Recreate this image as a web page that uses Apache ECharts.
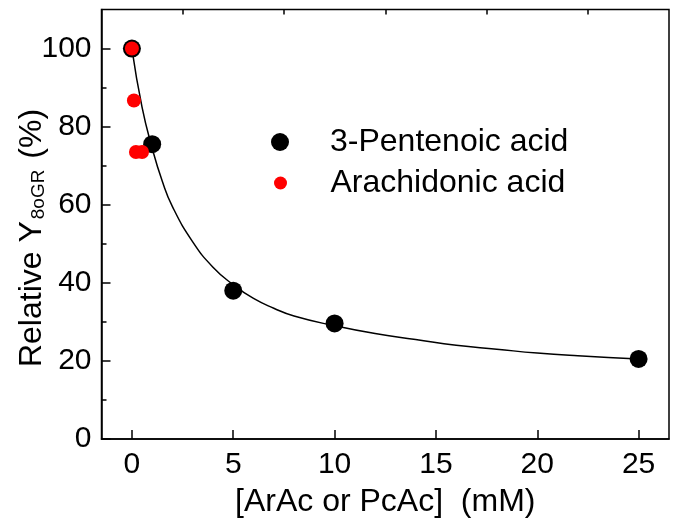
<!DOCTYPE html>
<html>
<head>
<meta charset="utf-8">
<script src="https://cdn.jsdelivr.net/npm/echarts@6/dist/echarts.min.js"></script>
<style>html,body{margin:0;padding:0;background:#fff}#c{width:679px;height:523px}</style>
</head>
<body>
<div id="c"></div>
<script>
// Data
const pentenoicX = [0, 1, 5, 10, 25];
const pentenoicY = [100, 75.5, 38, 29.6, 20.5];
const arachidonicX = [0, 0.1, 0.2, 0.5];
const arachidonicY = [100, 86.7, 73.5, 73.5];
const fitX = [0, 0.5, 1, 1.5, 2, 3, 4, 5, 6, 7, 8, 10, 12, 14, 16, 18, 20, 22, 25];
const fitY = [100, 85, 74.5, 66, 59.5, 50.5, 44, 39.5, 36, 33.5, 31.5, 29, 27, 25.5, 24, 23, 22, 21.3, 20.5];
const xTickLabels = [0, 5, 10, 15, 20, 25];
const xMinorTicks = [2.5, 7.5, 12.5, 17.5, 22.5];
const yTickLabels = [0, 20, 40, 60, 80, 100];
const yMinorTicks = [10, 30, 50, 70, 90];
const seriesNames = ['3-Pentenoic acid', 'Arachidonic acid'];

const FONT = '"Liberation Sans", Arial, Helvetica, sans-serif';
const zip = (xs, ys) => xs.map((x, i) => [x, ys[i]]);

const chart = echarts.init(document.getElementById('c'), null, {renderer: 'canvas'});
const gridPos = {left: 101.5, right: 10, top: 9.5, bottom: 84};
const baseX = {type: 'value', min: -1.5, max: 26.5, splitLine: {show: false}};
const baseY = {type: 'value', min: 0, max: 110, splitLine: {show: false}};
chart.setOption({
  animation: false,
  backgroundColor: '#fff',
  grid: [Object.assign({show: true, borderColor: '#000', borderWidth: 1.5, backgroundColor: 'transparent'}, gridPos)],
  xAxis: [
    Object.assign({}, baseX, {
      gridIndex: 0,
      name: '[ArAc or PcAc]  (mM)', nameLocation: 'middle', nameGap: 47,
      nameTextStyle: {fontFamily: FONT, fontSize: 32, color: '#000'},
      axisLine: {onZero: false, lineStyle: {color: '#000', width: 1.5}},
      axisTick: {inside: true, length: 9, lineStyle: {color: '#000', width: 1.5}, customValues: xTickLabels},
      axisLabel: {fontFamily: FONT, fontSize: 30, color: '#000', margin: 11, customValues: xTickLabels}
    }),
    Object.assign({}, baseX, {
      gridIndex: 0,
      axisLine: {show: false, onZero: false},
      axisTick: {inside: true, length: 5, lineStyle: {color: '#000', width: 1.5}, customValues: xMinorTicks},
      axisLabel: {show: false}
    })
  ],
  yAxis: [
    Object.assign({}, baseY, {
      gridIndex: 0,
      axisLine: {show: true, onZero: false, lineStyle: {color: '#000', width: 1.5}},
      axisTick: {show: true, inside: true, length: 9, lineStyle: {color: '#000', width: 1.5}, customValues: yTickLabels},
      axisLabel: {fontFamily: FONT, fontSize: 30, color: '#000', margin: 10, customValues: yTickLabels}
    }),
    Object.assign({}, baseY, {
      gridIndex: 0, position: 'left',
      axisLine: {show: false, onZero: false},
      axisTick: {show: true, inside: true, length: 5, lineStyle: {color: '#000', width: 1.5}, customValues: yMinorTicks},
      axisLabel: {show: false}
    })
  ],
  legend: [
    {
      data: [seriesNames[0]], left: 266, top: 121, orient: 'vertical',
      icon: 'circle', itemWidth: 90, itemHeight: 18,
      textStyle: {fontFamily: FONT, fontSize: 32, color: '#000'}
    },
    {
      data: [seriesNames[1]], left: 269, top: 162, orient: 'vertical',
      icon: 'circle', itemWidth: 90, itemHeight: 13,
      textStyle: {fontFamily: FONT, fontSize: 32, color: '#000'}
    }
  ],
  graphic: [{
    type: 'text',
    x: 32, y: 238, rotation: Math.PI / 2,
    style: {
      text: '{m|Relative Y}{s|8oGR}{m| (%)}',
      align: 'center', verticalAlign: 'middle',
      fill: '#000',
      rich: {
        m: {fontFamily: FONT, fontSize: 32, color: '#000', verticalAlign: 'top', lineHeight: 32},
        s: {fontFamily: FONT, fontSize: 19, color: '#000', verticalAlign: 'bottom', lineHeight: 19, padding: [21, 2, 0, 2]}
      }
    }
  }],
  series: [
    {
      type: 'line', name: 'fit', data: zip(fitX, fitY), smooth: true, showSymbol: false, symbol: 'none',
      lineStyle: {color: '#000', width: 1.5}, z: 1, silent: true
    },
    {
      type: 'scatter', name: seriesNames[0], data: zip(pentenoicX, pentenoicY),
      symbol: 'circle', symbolSize: 18, itemStyle: {color: '#000', opacity: 1}, z: 2
    },
    {
      type: 'scatter', name: seriesNames[1], data: zip(arachidonicX, arachidonicY),
      symbol: 'circle', symbolSize: 14, itemStyle: {color: '#ff0000', opacity: 1}, z: 3
    }
  ]
});
</script>
</body>
</html>
